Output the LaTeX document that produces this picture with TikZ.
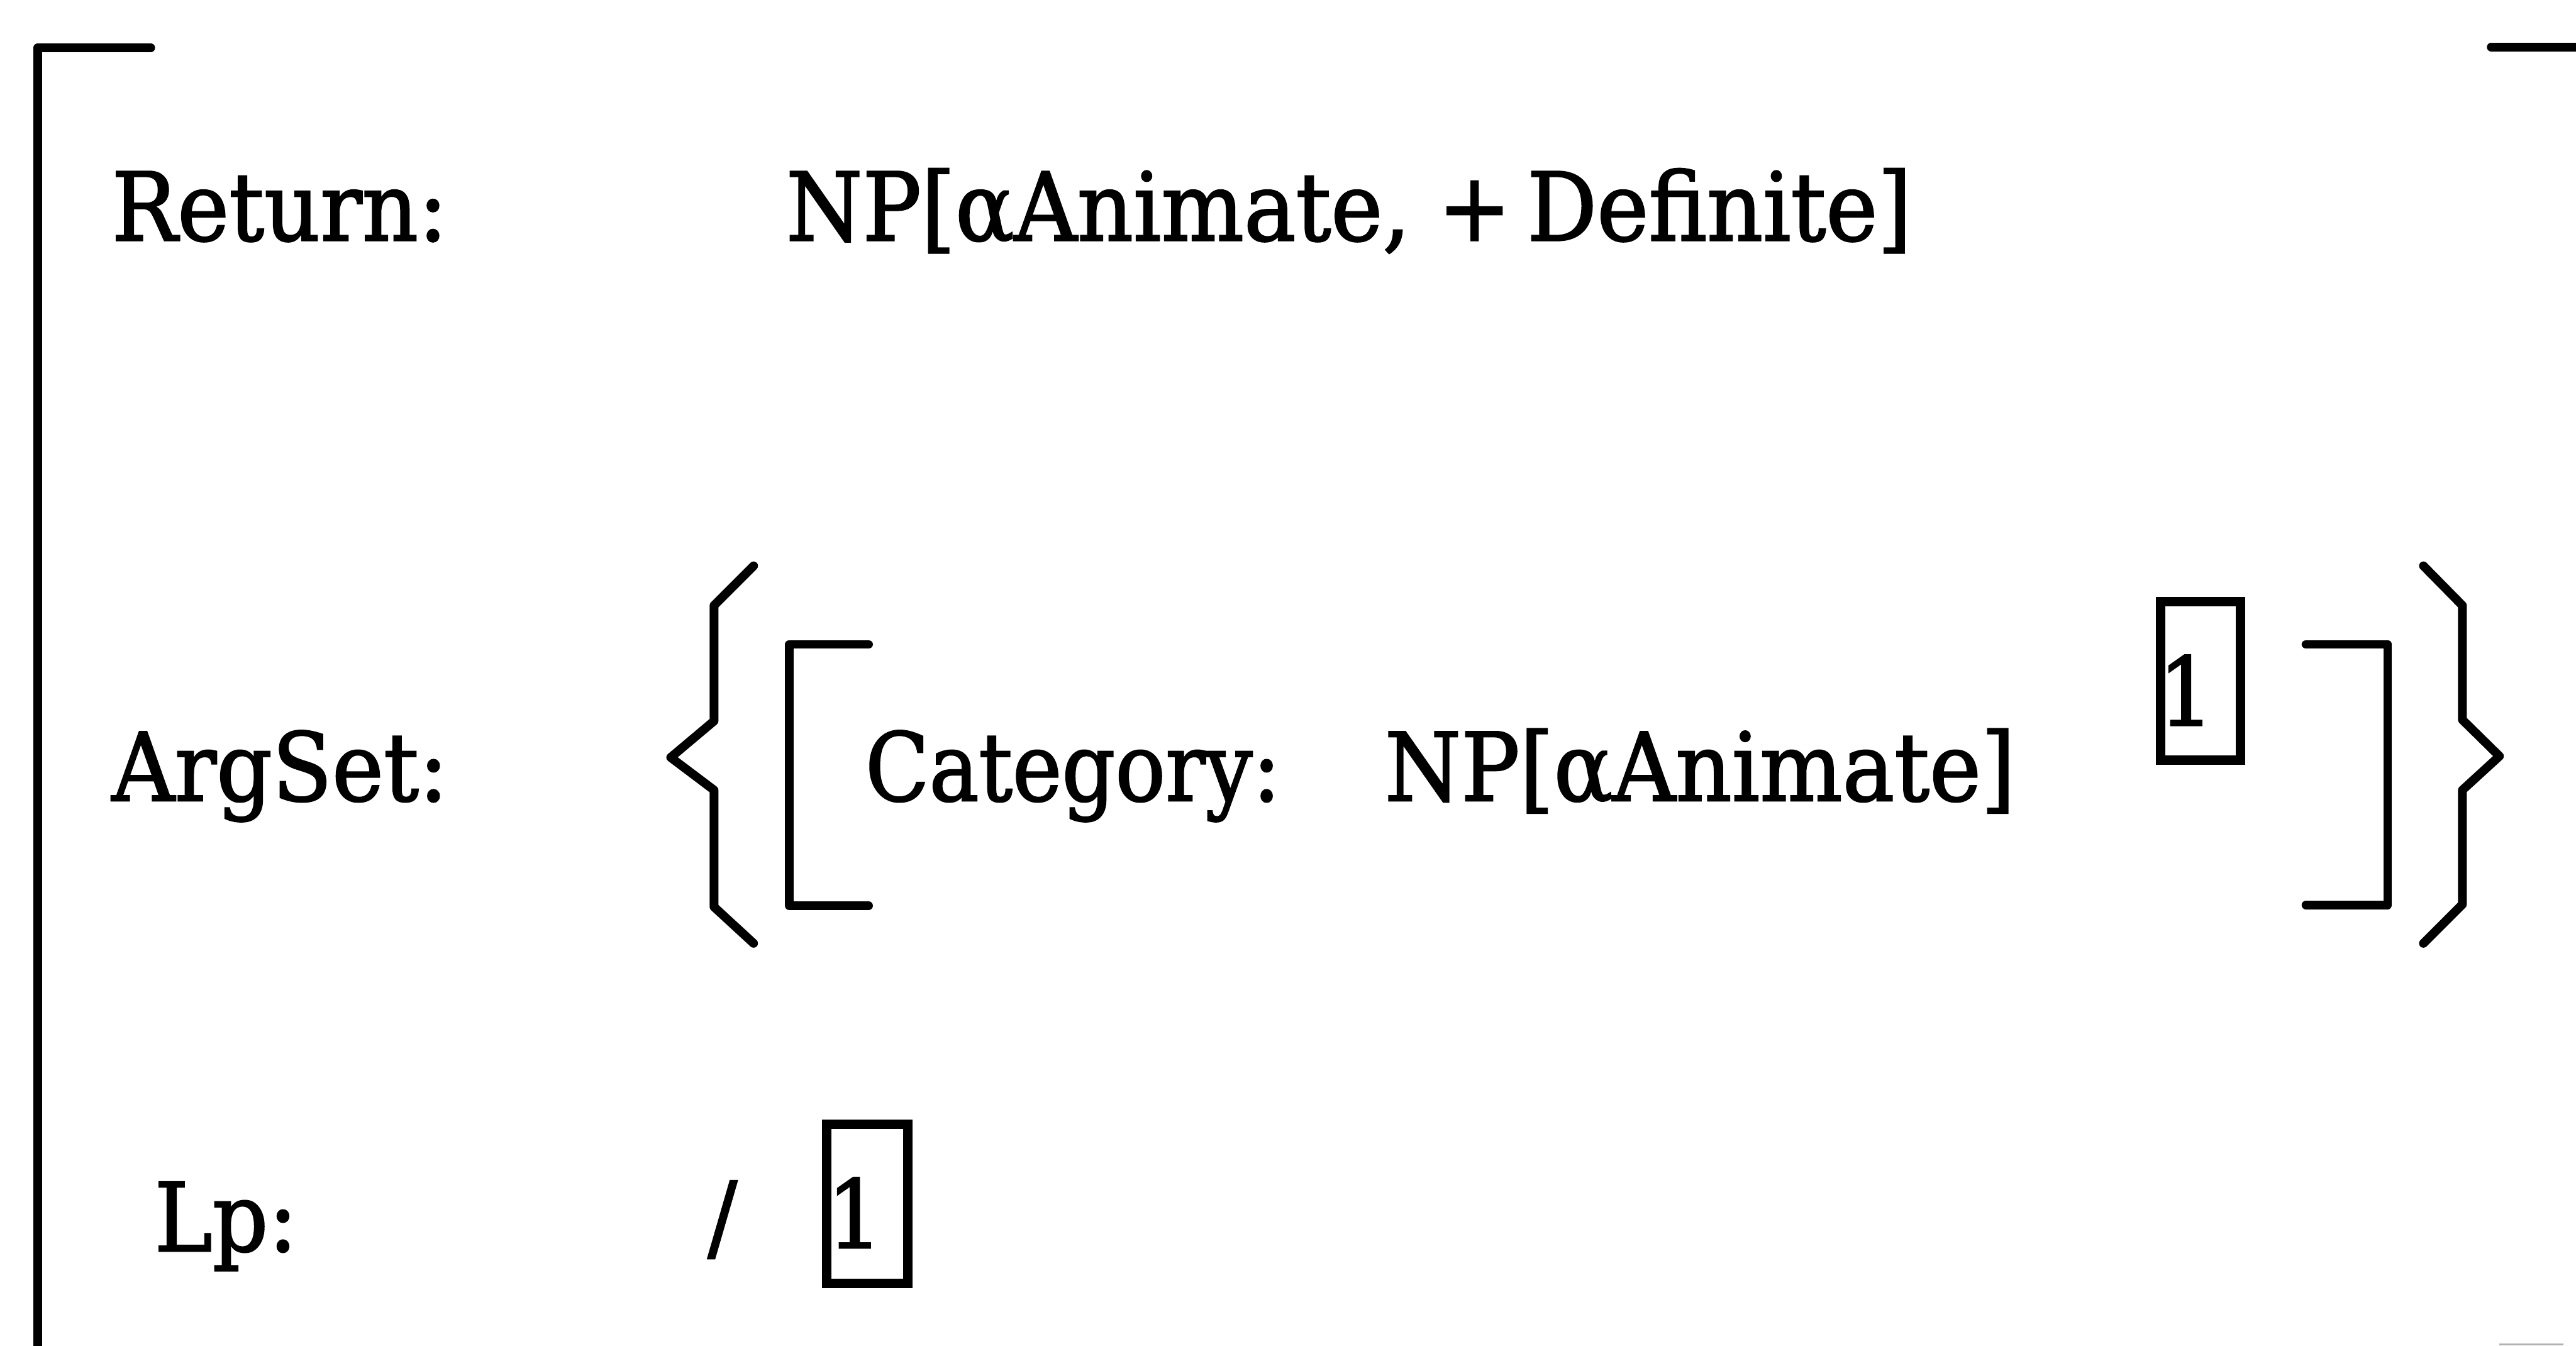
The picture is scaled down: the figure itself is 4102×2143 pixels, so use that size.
\documentclass[tikz,border=0pt]{standalone}
\usepackage{fontspec}
\setmainfont{DejaVu Serif}[FakeStretch=0.92,FakeBold=1.6]
\begin{document}
\begin{tikzpicture}[x=0.1pt,y=-0.1pt,
  lbl/.style={inner sep=0pt,anchor=base west,font=\fontsize{15.1pt}{18pt}\selectfont},
  rule/.style={line width=1.4pt,line join=round,line cap=round},
  tagbox/.style={line width=1.5pt,line join=miter}]
\useasboundingbox (0,0) rectangle (4102,2143);

% outer attribute-value matrix brackets
\draw[rule] (240,76) -- (60,76) -- (60,2160);
\draw[rule] (3967,75) -- (4110,75);
\draw[gray!60,line width=0.3pt] (3980,2141) -- (4082,2141);

% feature labels
\node[lbl] (ret)  at (176,383)  {Return:};
\node[lbl] (retv) at (1250,383) {NP[αAnimate, +\,Definite]};
\node[lbl] (arg)  at (176,1275) {ArgSet:};
\node[lbl] (lp)   at (244,1992) {Lp:};

% set braces
\draw[rule] (1200,901) -- (1137,964) -- (1137,1148) -- (1068,1206)
            -- (1137,1258) -- (1137,1444) -- (1200,1502);
\draw[rule] (3859,901) -- (3921,964) -- (3921,1146) -- (3980,1204)
            -- (3921,1258) -- (3921,1440) -- (3859,1502);

% inner matrix brackets
\draw[rule] (1383,1026) -- (1257,1026) -- (1257,1442) -- (1383,1442);
\draw[rule] (3672,1026) -- (3802,1026) -- (3802,1441) -- (3672,1441);

\node[lbl] (cat)  at (1376,1275) {\addfontfeature{FakeStretch=0.88}Category:};
\node[lbl] (catv) at (2203,1275) {NP[αAnimate]};

% coindexation tags
\draw[tagbox] (3440,958) rectangle (3568,1210);
\node[lbl] (tagA) at (3435,1155) {1};

\node[lbl] (slash) at (1125,1990) {/};
\draw[tagbox] (1316,1790) rectangle (1446,2043);
\node[lbl] (tagB) at (1315,1987) {1};
\end{tikzpicture}
\end{document}
